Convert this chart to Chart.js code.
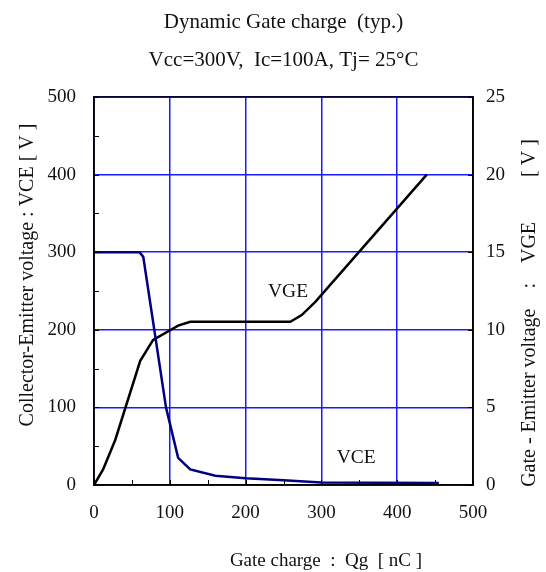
<!DOCTYPE html>
<html>
<head>
<meta charset="utf-8">
<script src="https://cdn.jsdelivr.net/npm/chart.js@4"></script>
<style>
html,body{margin:0;padding:0;background:#fff;}
#wrap{width:546px;height:572px;}
</style>
</head>
<body>
<div id="wrap"><canvas id="c" width="546" height="572"></canvas></div>
<script>
// ---- data ----
const qgVCE = [0, 60, 65, 95, 111, 127, 160, 200, 250, 300, 455];
const vce   = [300, 300, 294, 100, 35, 20, 12, 8.8, 6, 3.2, 2.6];
const qgVGE = [0, 12, 28, 61, 78, 111, 127, 259, 274, 292, 439];
const vge   = [0, 1.0, 2.9, 8.0, 9.35, 10.27, 10.52, 10.52, 10.95, 11.8, 20];
const xTicks = [0, 100, 200, 300, 400, 500];
const yLeftTicks = [0, 100, 200, 300, 400, 500];
const yRightTicks = [0, 5, 10, 15, 20, 25];
const titleLines = ["Dynamic Gate charge  (typ.)", "Vcc=300V,  Ic=100A, Tj= 25\u00B0C"];
const xTitle = "Gate charge  :  Qg  [ nC ]";
const yLeftTitle = "Collector-Emitter voltage : VCE [ V ]";
const yRightTitle = "Gate - Emitter voltage    :    VGE         [ V ]";
const curveLabels = [
  {text: "VGE", x: 256, y: 249},
  {text: "VCE", x: 346, y: 35}
];

const FONT = "'Liberation Serif', 'Times New Roman', serif";

const decor = {
  id: 'decor',
  afterDraw(chart) {
    const ctx = chart.ctx;
    const a = chart.chartArea;
    const sx = chart.scales.x, sy = chart.scales.y, sy2 = chart.scales.y2;
    ctx.save();
    // frame
    ctx.strokeStyle = '#000';
    ctx.lineWidth = 1.5;
    ctx.strokeRect(a.left, a.top, a.right - a.left, a.bottom - a.top);
    // inward ticks
    ctx.lineWidth = 1;
    ctx.beginPath();
    for (let v = 0; v <= 500; v += 50) {
      const px = Math.round(sx.getPixelForValue(v)) + 0.5;
      ctx.moveTo(px, a.bottom); ctx.lineTo(px, a.bottom - 5);
      const py = Math.round(sy.getPixelForValue(v)) + 0.5;
      ctx.moveTo(a.left, py); ctx.lineTo(a.left + 5, py);
    }
    for (let v = 0; v <= 25; v += 5) {
      const py = Math.round(sy2.getPixelForValue(v)) + 0.5;
      ctx.moveTo(a.right, py); ctx.lineTo(a.right - 5, py);
    }
    ctx.stroke();
    // titles
    ctx.fillStyle = '#111';
    ctx.textAlign = 'center';
    ctx.textBaseline = 'middle';
    const cx = (a.left + a.right) / 2;
    ctx.font = "21px " + FONT;
    ctx.fillText(titleLines[0], cx, 22);
    ctx.fillText(titleLines[1], cx, 60);
    ctx.font = "19px " + FONT;
    ctx.fillText(xTitle, 326, 561);
    ctx.save();
    ctx.font = "20px " + FONT;
    ctx.translate(28, 275);
    ctx.rotate(-Math.PI / 2);
    ctx.fillText(yLeftTitle, 0, 0);
    ctx.restore();
    ctx.save();
    ctx.font = "20px " + FONT;
    ctx.translate(530, 313);
    ctx.rotate(-Math.PI / 2);
    ctx.fillText(yRightTitle, 0, 0);
    ctx.restore();
    // curve labels
    ctx.font = "19.5px " + FONT;
    curveLabels.forEach(l => {
      ctx.fillText(l.text, sx.getPixelForValue(l.x), sy.getPixelForValue(l.y));
    });
    ctx.restore();
  }
};

new Chart(document.getElementById('c'), {
  type: 'line',
  data: {
    datasets: [
      {
        label: 'VCE',
        data: qgVCE.map((q, i) => ({x: q, y: vce[i]})),
        borderColor: '#000080',
        borderWidth: 2.5,
        pointRadius: 0,
        tension: 0,
        yAxisID: 'y'
      },
      {
        label: 'VGE',
        data: qgVGE.map((q, i) => ({x: q, y: vge[i]})),
        borderColor: '#000',
        borderWidth: 2.5,
        pointRadius: 0,
        tension: 0,
        yAxisID: 'y2'
      }
    ]
  },
  options: {
    responsive: false,
    animation: false,
    devicePixelRatio: 1,
    layout: {padding: {top: 97, left: 0, right: 0, bottom: 0}},
    plugins: {legend: {display: false}, tooltip: {enabled: false}, title: {display: false}},
    scales: {
      x: {
        type: 'linear', min: 0, max: 500,
        afterBuildTicks: s => { s.ticks = xTicks.map(v => ({value: v})); },
        afterFit: s => { s.height = 87; },
        grid: {color: '#1a1aff', lineWidth: 1.5, drawTicks: false},
        border: {color: '#000', width: 1.5},
        ticks: {color: '#111', font: {family: FONT, size: 19}, padding: 17, maxRotation: 0}
      },
      y: {
        type: 'linear', position: 'left', min: 0, max: 500,
        afterBuildTicks: s => { s.ticks = yLeftTicks.map(v => ({value: v})); },
        afterFit: s => { s.width = 94; },
        grid: {color: '#1a1aff', lineWidth: 1.5, drawTicks: false},
        border: {color: '#000', width: 1.5},
        ticks: {color: '#111', font: {family: FONT, size: 19}, padding: 18}
      },
      y2: {
        type: 'linear', position: 'right', min: 0, max: 25,
        afterBuildTicks: s => { s.ticks = yRightTicks.map(v => ({value: v})); },
        afterFit: s => { s.width = 73; },
        grid: {display: false, drawTicks: false},
        border: {color: '#000', width: 1.5},
        ticks: {color: '#111', font: {family: FONT, size: 19}, padding: 13}
      }
    }
  },
  plugins: [decor]
});
</script>
</body>
</html>
